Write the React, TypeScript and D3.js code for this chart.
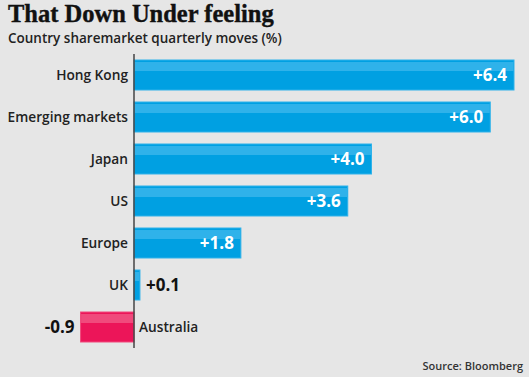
import React from "react";
import * as d3 from "d3";

const categories = ["Hong Kong", "Emerging markets", "Japan", "US", "Europe", "UK", "Australia"];
const values = [6.4, 6.0, 4.0, 3.6, 1.8, 0.1, -0.9];
const valueLabels = ["+6.4", "+6.0", "+4.0", "+3.6", "+1.8", "+0.1", "-0.9"];

const W = 529;
const H = 377;
const SANS = "'Open Sans', 'Noto Sans', sans-serif";

export default function App() {
  const x = d3.scaleLinear().domain([0, 6.4]).range([134, 514]);
  const y = d3.scaleBand().domain(categories).range([54, 348]).paddingInner(0.286).paddingOuter(0.143);
  const bh = y.bandwidth();
  return (
    <svg width={W} height={H} style={{ position: "absolute", left: 0, top: 0, display: "block" }}>
      <rect x={0} y={0} width={W} height={H} fill="#e6e6e6" />
      <text x={8} y={22} fontFamily="'Liberation Serif', serif" fontWeight="bold" fontSize={24.5} fill="#111" stroke="#111" strokeWidth={0.4}>
        That Down Under feeling
      </text>
      <text x={8} y={43} fontFamily={SANS} fontWeight={600} fontSize={13.5} fill="#222">
        Country sharemarket quarterly moves (%)
      </text>
      {categories.map((c, i) => {
        const v = values[i];
        const x0 = x(Math.min(0, v));
        const x1 = x(Math.max(0, v));
        const yy = y(c)!;
        const neg = v < 0;
        const main = neg ? "#ec1559" : "#00a0e2";
        const light = neg ? "#f04a7c" : "#2fb2ea";
        const cy = yy + bh / 2;
        const wide = x1 - x0 > 50;
        return (
          <g key={c}>
            <rect x={x0} y={yy} width={x1 - x0} height={bh} fill={main} stroke={light} strokeWidth={1} />
            <rect x={x0 + 0.5} y={yy + 2} width={Math.max(0, x1 - x0 - 1)} height={9} fill={light} />
            {neg ? (
              <>
                <text x={x0 - 6} y={cy} dy="0.35em" textAnchor="end" fontFamily={SANS} fontWeight={700} fontSize={17} fill="#111">
                  {valueLabels[i]}
                </text>
                <text x={x(0) + 5} y={cy} dy="0.35em" fontFamily={SANS} fontWeight={600} fontSize={13.7} fill="#222">
                  {c}
                </text>
              </>
            ) : (
              <>
                <text x={x(0) - 6} y={cy} dy="0.35em" textAnchor="end" fontFamily={SANS} fontWeight={600} fontSize={13.7} fill="#222">
                  {c}
                </text>
                {wide ? (
                  <text x={x1 - 7} y={cy} dy="0.35em" textAnchor="end" fontFamily={SANS} fontWeight={700} fontSize={17} fill="#fff">
                    {valueLabels[i]}
                  </text>
                ) : (
                  <text x={x1 + 6} y={cy} dy="0.35em" fontFamily={SANS} fontWeight={700} fontSize={17} fill="#111">
                    {valueLabels[i]}
                  </text>
                )}
              </>
            )}
          </g>
        );
      })}
      <line x1={x(0)} x2={x(0)} y1={54} y2={348} stroke="#444" strokeWidth={1.5} />
      <text x={523} y={370} textAnchor="end" fontFamily={SANS} fontWeight={600} fontSize={11} fill="#333">
        Source: Bloomberg
      </text>
    </svg>
  );
}
